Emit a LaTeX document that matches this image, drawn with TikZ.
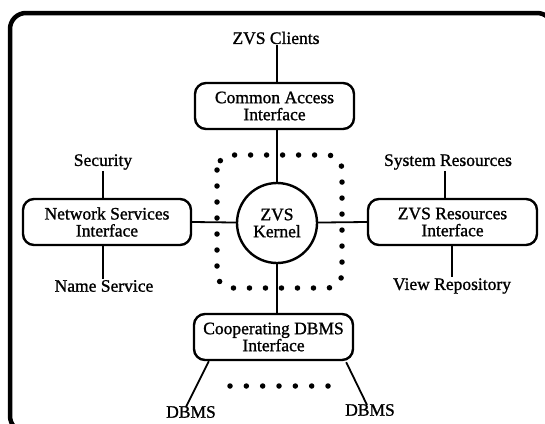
\documentclass[tikz,border=0pt]{standalone}
\usepackage{fontspec}
\setmainfont{Liberation Serif}[BoldFont={Liberation Serif},BoldFeatures={FakeBold=1.2}]
\usetikzlibrary{calc}
\begin{document}
\begin{tikzpicture}[x=1pt,y=-1pt,
  lbl/.style={font=\fontsize{17.5}{17}\selectfont\bfseries, inner sep=1pt},
  ibox/.style={draw, line width=2.4pt, rounded corners=11pt, align=center,
    font=\fontsize{17.5}{17}\selectfont\bfseries, minimum height=46pt, inner sep=0pt},
  kern/.style={draw, circle, line width=2.4pt, align=center,
    font=\fontsize{17.5}{17}\selectfont\bfseries, minimum size=80pt, inner sep=0pt},
  conn/.style={line width=1.8pt},
  dotline/.style={line width=5.5pt, line cap=round, dash pattern=on 0pt off 16pt}]
\useasboundingbox (0,0) rectangle (545,423);
\begin{scope}
  \clip (0,0) rectangle (545,423);
  \draw[line width=4.5pt, rounded corners=16pt] (10,13) rectangle (553,432);
\end{scope}
% dotted kernel boundary
\draw[dotline, rounded corners=15pt] (217,155) rectangle (342,288);
% nodes
\node[lbl] (clients) at (276,38) {ZVS Clients};
\node[ibox, minimum width=159pt] (cai) at (274.5,106) {Common Access\\Interface};
\node[kern] (kernel) at (277,223) {ZVS\\Kernel};
\node[ibox, minimum width=168pt] (nsi) at (107,222) {Network Services\\Interface};
\node[ibox, minimum width=169pt] (zri) at (452.5,222) {ZVS Resources\\Interface};
\node[ibox, minimum width=159pt] (cdb) at (273.5,337) {Cooperating DBMS\\Interface};
\node[lbl] (sec) at (103,162) {Security};
\node[lbl] (names) at (104,286) {Name Service};
\node[lbl] (sysres) at (448,162) {System Resources};
\node[lbl] (viewrep) at (452,286) {View Repository};
\node[lbl] (dbmsa) at (191,412) {DBMS};
\node[lbl] (dbmsb) at (370,410) {DBMS};
% connectors
\draw[conn] (clients.south -| kernel.north) -- (cai.north -| kernel.north);
\draw[conn] (cai.south -| kernel.north) -- (kernel.north);
\draw[conn] (kernel.south) -- (cdb.north -| kernel.south);
\draw[conn] (nsi.east) -- (kernel);
\draw[conn] (kernel) -- (zri.west);
\draw[conn] (sec.south) -- (sec.south |- nsi.north);
\draw[conn] (names.north -| sec.south) -- (nsi.south -| sec.south);
\draw[conn] ($(sysres.south)+(-3,0)$) -- ($(sysres.south |- zri.north)+(-3,0)$);
\draw[conn] (zri.south -| viewrep.north) -- (viewrep.north);
\draw[conn] ($(cdb.south west)+(16,0)$) -- ($(dbmsa.north)+(-5,2)$);
\draw[conn] ($(cdb.south east)+(-8,1)$) -- ($(dbmsb.north)+(-3,2)$);
% dots between DBMSs
\draw[line width=5.5pt, line cap=round, dash pattern=on 0pt off 16.333pt] (230,386) -- (328,386);
\end{tikzpicture}
\end{document}
